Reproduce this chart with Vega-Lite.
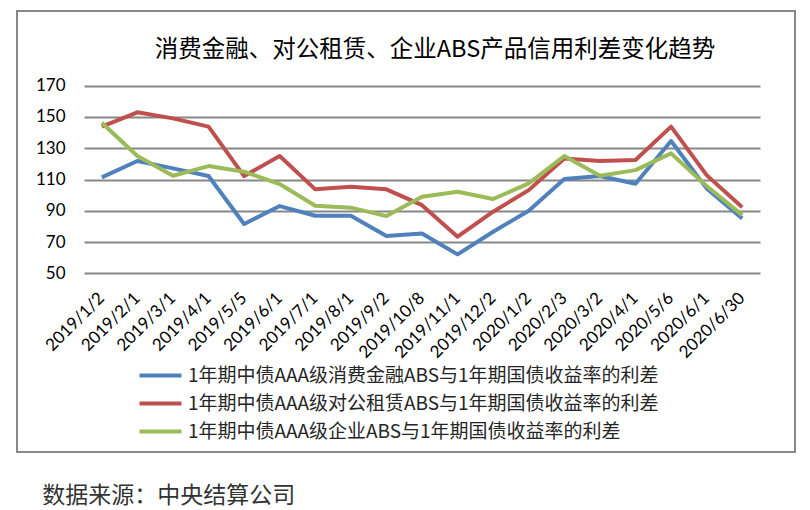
{
  "$schema": "https://vega.github.io/schema/vega-lite/v6.json",
  "autosize": {"type": "none"},
  "width": 778,
  "height": 441,
  "padding": {"left": 17, "top": 11, "right": 15, "bottom": 58},
  "background": "white",
  "title": {
    "text": "消费金融、对公租赁、企业ABS产品信用利差变化趋势",
    "frame": "group",
    "anchor": "middle",
    "orient": "top",
    "offset": 0,
    "baseline": "middle",
    "dx": 29,
    "dy": 62,
    "font": "Noto Sans CJK SC",
    "fontSize": 23.5,
    "fontWeight": "normal",
    "color": "#000000"
  },
  "config": {
    "view": {"stroke": "#888888", "strokeWidth": 2},
    "legend": {"padding": 0}
  },
  "data": {
    "values": [
      {"d": "2019/1/2", "s": "1年期中债AAA级消费金融ABS与1年期国债收益率的利差", "v": 111.4},
      {"d": "2019/2/1", "s": "1年期中债AAA级消费金融ABS与1年期国债收益率的利差", "v": 121.8},
      {"d": "2019/3/1", "s": "1年期中债AAA级消费金融ABS与1年期国债收益率的利差", "v": 117.1},
      {"d": "2019/4/1", "s": "1年期中债AAA级消费金融ABS与1年期国债收益率的利差", "v": 112.2},
      {"d": "2019/5/5", "s": "1年期中债AAA级消费金融ABS与1年期国债收益率的利差", "v": 81.5},
      {"d": "2019/6/1", "s": "1年期中债AAA级消费金融ABS与1年期国债收益率的利差", "v": 93.0},
      {"d": "2019/7/1", "s": "1年期中债AAA级消费金融ABS与1年期国债收益率的利差", "v": 86.8},
      {"d": "2019/8/1", "s": "1年期中债AAA级消费金融ABS与1年期国债收益率的利差", "v": 86.8},
      {"d": "2019/9/2", "s": "1年期中债AAA级消费金融ABS与1年期国债收益率的利差", "v": 73.8},
      {"d": "2019/10/8", "s": "1年期中债AAA级消费金融ABS与1年期国债收益率的利差", "v": 75.5},
      {"d": "2019/11/1", "s": "1年期中债AAA级消费金融ABS与1年期国债收益率的利差", "v": 62.1},
      {"d": "2019/12/2", "s": "1年期中债AAA级消费金融ABS与1年期国债收益率的利差", "v": 76.6},
      {"d": "2020/1/2", "s": "1年期中债AAA级消费金融ABS与1年期国债收益率的利差", "v": 90.0},
      {"d": "2020/2/3", "s": "1年期中债AAA级消费金融ABS与1年期国债收益率的利差", "v": 110.3},
      {"d": "2020/3/2", "s": "1年期中债AAA级消费金融ABS与1年期国债收益率的利差", "v": 112.2},
      {"d": "2020/4/1", "s": "1年期中债AAA级消费金融ABS与1年期国债收益率的利差", "v": 107.3},
      {"d": "2020/5/6", "s": "1年期中债AAA级消费金融ABS与1年期国债收益率的利差", "v": 134.6},
      {"d": "2020/6/1", "s": "1年期中债AAA级消费金融ABS与1年期国债收益率的利差", "v": 104.3},
      {"d": "2020/6/30", "s": "1年期中债AAA级消费金融ABS与1年期国债收益率的利差", "v": 85.1},
      {"d": "2019/1/2", "s": "1年期中债AAA级对公租赁ABS与1年期国债收益率的利差", "v": 143.8},
      {"d": "2019/2/1", "s": "1年期中债AAA级对公租赁ABS与1年期国债收益率的利差", "v": 153.0},
      {"d": "2019/3/1", "s": "1年期中债AAA级对公租赁ABS与1年期国债收益率的利差", "v": 149.1},
      {"d": "2019/4/1", "s": "1年期中债AAA级对公租赁ABS与1年期国债收益率的利差", "v": 143.8},
      {"d": "2019/5/5", "s": "1年期中债AAA级对公租赁ABS与1年期国债收益率的利差", "v": 112.2},
      {"d": "2019/6/1", "s": "1年期中债AAA级对公租赁ABS与1年期国债收益率的利差", "v": 125.0},
      {"d": "2019/7/1", "s": "1年期中债AAA级对公租赁ABS与1年期国债收益率的利差", "v": 103.7},
      {"d": "2019/8/1", "s": "1年期中债AAA级对公租赁ABS与1年期国债收益率的利差", "v": 105.4},
      {"d": "2019/9/2", "s": "1年期中债AAA级对公租赁ABS与1年期国债收益率的利差", "v": 103.7},
      {"d": "2019/10/8", "s": "1年期中债AAA级对公租赁ABS与1年期国债收益率的利差", "v": 93.6},
      {"d": "2019/11/1", "s": "1年期中债AAA级对公租赁ABS与1年期国债收益率的利差", "v": 73.4},
      {"d": "2019/12/2", "s": "1年期中债AAA级对公租赁ABS与1年期国债收益率的利差", "v": 89.4},
      {"d": "2020/1/2", "s": "1年期中债AAA级对公租赁ABS与1年期国债收益率的利差", "v": 103.2},
      {"d": "2020/2/3", "s": "1年期中债AAA级对公租赁ABS与1年期国债收益率的利差", "v": 123.5},
      {"d": "2020/3/2", "s": "1年期中债AAA级对公租赁ABS与1年期国债收益率的利差", "v": 121.8},
      {"d": "2020/4/1", "s": "1年期中债AAA级对公租赁ABS与1年期国债收益率的利差", "v": 122.5},
      {"d": "2020/5/6", "s": "1年期中债AAA级对公租赁ABS与1年期国债收益率的利差", "v": 143.8},
      {"d": "2020/6/1", "s": "1年期中债AAA级对公租赁ABS与1年期国债收益率的利差", "v": 112.8},
      {"d": "2020/6/30", "s": "1年期中债AAA级对公租赁ABS与1年期国债收益率的利差", "v": 92.2},
      {"d": "2019/1/2", "s": "1年期中债AAA级企业ABS与1年期国债收益率的利差", "v": 146.3},
      {"d": "2019/2/1", "s": "1年期中债AAA级企业ABS与1年期国债收益率的利差", "v": 125.0},
      {"d": "2019/3/1", "s": "1年期中债AAA级企业ABS与1年期国债收益率的利差", "v": 112.4},
      {"d": "2019/4/1", "s": "1年期中债AAA级企业ABS与1年期国债收益率的利差", "v": 118.6},
      {"d": "2019/5/5", "s": "1年期中债AAA级企业ABS与1年期国债收益率的利差", "v": 115.0},
      {"d": "2019/6/1", "s": "1年期中债AAA级企业ABS与1年期国债收益率的利差", "v": 107.1},
      {"d": "2019/7/1", "s": "1年期中债AAA级企业ABS与1年期国债收益率的利差", "v": 93.2},
      {"d": "2019/8/1", "s": "1年期中债AAA级企业ABS与1年期国债收益率的利差", "v": 92.0},
      {"d": "2019/9/2", "s": "1年期中债AAA级企业ABS与1年期国债收益率的利差", "v": 86.6},
      {"d": "2019/10/8", "s": "1年期中债AAA级企业ABS与1年期国债收益率的利差", "v": 99.0},
      {"d": "2019/11/1", "s": "1年期中债AAA级企业ABS与1年期国债收益率的利差", "v": 102.2},
      {"d": "2019/12/2", "s": "1年期中债AAA级企业ABS与1年期国债收益率的利差", "v": 97.5},
      {"d": "2020/1/2", "s": "1年期中债AAA级企业ABS与1年期国债收益率的利差", "v": 107.5},
      {"d": "2020/2/3", "s": "1年期中债AAA级企业ABS与1年期国债收益率的利差", "v": 125.0},
      {"d": "2020/3/2", "s": "1年期中债AAA级企业ABS与1年期国债收益率的利差", "v": 112.4},
      {"d": "2020/4/1", "s": "1年期中债AAA级企业ABS与1年期国债收益率的利差", "v": 116.0},
      {"d": "2020/5/6", "s": "1年期中债AAA级企业ABS与1年期国债收益率的利差", "v": 126.7},
      {"d": "2020/6/1", "s": "1年期中债AAA级企业ABS与1年期国债收益率的利差", "v": 105.8},
      {"d": "2020/6/30", "s": "1年期中债AAA级企业ABS与1年期国债收益率的利差", "v": 87.2}
    ]
  },
  "mark": {"type": "line", "strokeWidth": 4, "strokeJoin": "round", "strokeCap": "butt"},
  "encoding": {
    "x": {
      "field": "d",
      "type": "ordinal",
      "sort": null,
      "scale": {"type": "band", "range": [67, 743], "paddingInner": 0, "paddingOuter": 0},
      "axis": {
        "orient": "bottom",
        "offset": -178.7,
        "domain": false,
        "ticks": false,
        "grid": false,
        "labelAngle": -45,
        "labelAlign": "right",
        "labelBaseline": "middle",
        "labelPadding": 22,
        "labelFont": "Lato",
        "labelFontSize": 17,
        "labelColor": "#000000",
        "labelOverlap": false,
        "title": "数据来源：中央结算公司",
        "titleX": 24.7,
        "titleY": 221.7,
        "titleAngle": 0,
        "titleAlign": "left",
        "titleAnchor": "start",
        "titleBaseline": "middle",
        "titleFont": "Noto Sans CJK SC",
        "titleFontSize": 23,
        "titleFontWeight": "normal",
        "titleColor": "#333333"
      }
    },
    "y": {
      "field": "v",
      "type": "quantitative",
      "scale": {"domain": [50, 170], "range": [262.3, 74.7], "zero": false, "nice": false},
      "axis": {
        "orient": "left",
        "offset": -48,
        "values": [50, 70, 90, 110, 130, 150, 170],
        "domain": false,
        "ticks": false,
        "tickSize": 0,
        "labelPadding": 0,
        "labelFont": "Lato",
        "labelFontSize": 17,
        "labelColor": "#000000",
        "grid": true,
        "gridColor": "#878787",
        "gridWidth": 2,
        "title": null
      }
    },
    "color": {
      "field": "s",
      "type": "nominal",
      "sort": null,
      "scale": {
        "domain": [
          "1年期中债AAA级消费金融ABS与1年期国债收益率的利差",
          "1年期中债AAA级对公租赁ABS与1年期国债收益率的利差",
          "1年期中债AAA级企业ABS与1年期国债收益率的利差"
        ],
        "range": ["#4F81BD", "#C0504D", "#9BBB59"]
      },
      "legend": {
        "title": null,
        "orient": "none",
        "legendX": 134,
        "legendY": 355,
        "direction": "vertical",
        "symbolType": "M-3,0H3",
        "symbolSize": 196,
        "symbolStrokeWidth": 4,
        "labelFont": "Noto Sans CJK SC",
        "labelFontSize": 19,
        "labelColor": "#262626",
        "labelOffset": 18,
        "labelLimit": 0,
        "rowPadding": 8
      }
    }
  }
}
